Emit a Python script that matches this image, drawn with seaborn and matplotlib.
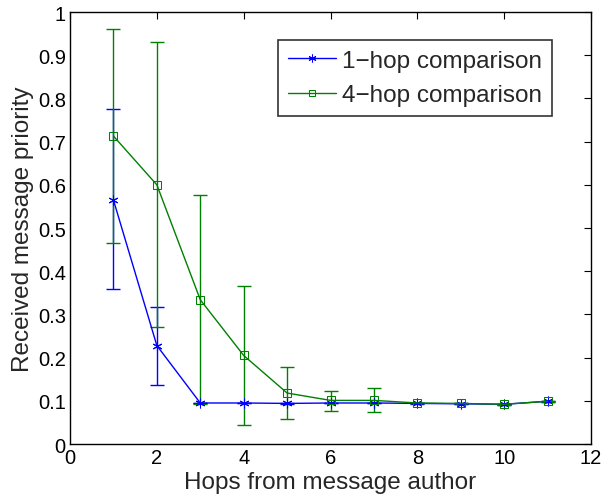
import matplotlib
matplotlib.use("Agg")
import matplotlib.pyplot as plt
import seaborn as sns
import pandas as pd

hops = [1, 2, 3, 4, 5, 6, 7, 8, 9, 10, 11]
one_hop = [0.565, 0.228, 0.095, 0.095, 0.094, 0.095, 0.095, 0.094, 0.093, 0.092, 0.099]
one_hop_lo = [0.358, 0.137, 0.094, 0.094, 0.093, 0.094, 0.094, 0.093, 0.092, 0.091, 0.098]
one_hop_hi = [0.775, 0.318, 0.096, 0.096, 0.095, 0.096, 0.096, 0.095, 0.094, 0.093, 0.100]
four_hop = [0.713, 0.600, 0.334, 0.205, 0.118, 0.101, 0.101, 0.095, 0.094, 0.092, 0.099]
four_hop_lo = [0.465, 0.270, 0.092, 0.044, 0.057, 0.077, 0.073, 0.094, 0.093, 0.091, 0.098]
four_hop_hi = [0.960, 0.930, 0.577, 0.366, 0.179, 0.123, 0.129, 0.096, 0.095, 0.093, 0.100]
labels = ["1\u2212hop comparison", "4\u2212hop comparison"]

sns.set_style("white")
plt.rcParams["font.family"] = ["Liberation Sans", "DejaVu Sans"]

fig = plt.figure(figsize=(6.05, 5.02), dpi=100)
ax = fig.add_axes([0.1157, 0.1135, 0.8613, 0.8605])

df = pd.DataFrame({
    "hops": hops * 2,
    "value": one_hop + four_hop,
    "series": [labels[0]] * len(hops) + [labels[1]] * len(hops),
})

colors = {labels[0]: "#0000ff", labels[1]: "#008000"}

for lab, y, lo, hi in [(labels[0], one_hop, one_hop_lo, one_hop_hi),
                       (labels[1], four_hop, four_hop_lo, four_hop_hi)]:
    yerr = [[a - b for a, b in zip(y, lo)], [b - a for a, b in zip(y, hi)]]
    ax.errorbar(hops, y, yerr=yerr, fmt="none", ecolor=colors[lab],
                elinewidth=1.0, capsize=5, capthick=1.0)

sns.lineplot(data=df[df.series == labels[0]], x="hops", y="value", ax=ax,
             color=colors[labels[0]], marker=(6, 2, 0), markersize=7,
             markeredgecolor=colors[labels[0]], linewidth=1.0, label=labels[0])
sns.lineplot(data=df[df.series == labels[1]], x="hops", y="value", ax=ax,
             color=colors[labels[1]], marker="s", markersize=6,
             markerfacecolor="none", markeredgecolor=colors[labels[1]],
             linewidth=1.0, label=labels[1])

ax.set_xlim(0, 12)
ax.set_ylim(0, 1)
ax.set_xticks(range(0, 13, 2))
ax.set_yticks([i / 10 for i in range(11)])
ax.set_yticklabels(["0", "0.1", "0.2", "0.3", "0.4", "0.5", "0.6", "0.7", "0.8", "0.9", "1"])
ax.tick_params(direction="in", top=True, right=True, length=5, width=0.8,
               labelsize=14.5, colors="black", pad=3)
ax.set_xlabel("Hops from message author", fontsize=17.5, labelpad=3)
ax.set_ylabel("Received message priority", fontsize=17.5, labelpad=3)
for s in ax.spines.values():
    s.set_color("black")
    s.set_linewidth(1.0)

leg = ax.legend(loc="upper right", bbox_to_anchor=(0.925, 0.935), borderaxespad=0,
                fontsize=17.5, frameon=True, fancybox=False, edgecolor="black",
                handlelength=2.0, borderpad=0.4, labelspacing=0.5,
                handletextpad=0.25, markerscale=0.8)
leg.get_frame().set_linewidth(1.2)

fig.savefig("out.png", dpi=100)
